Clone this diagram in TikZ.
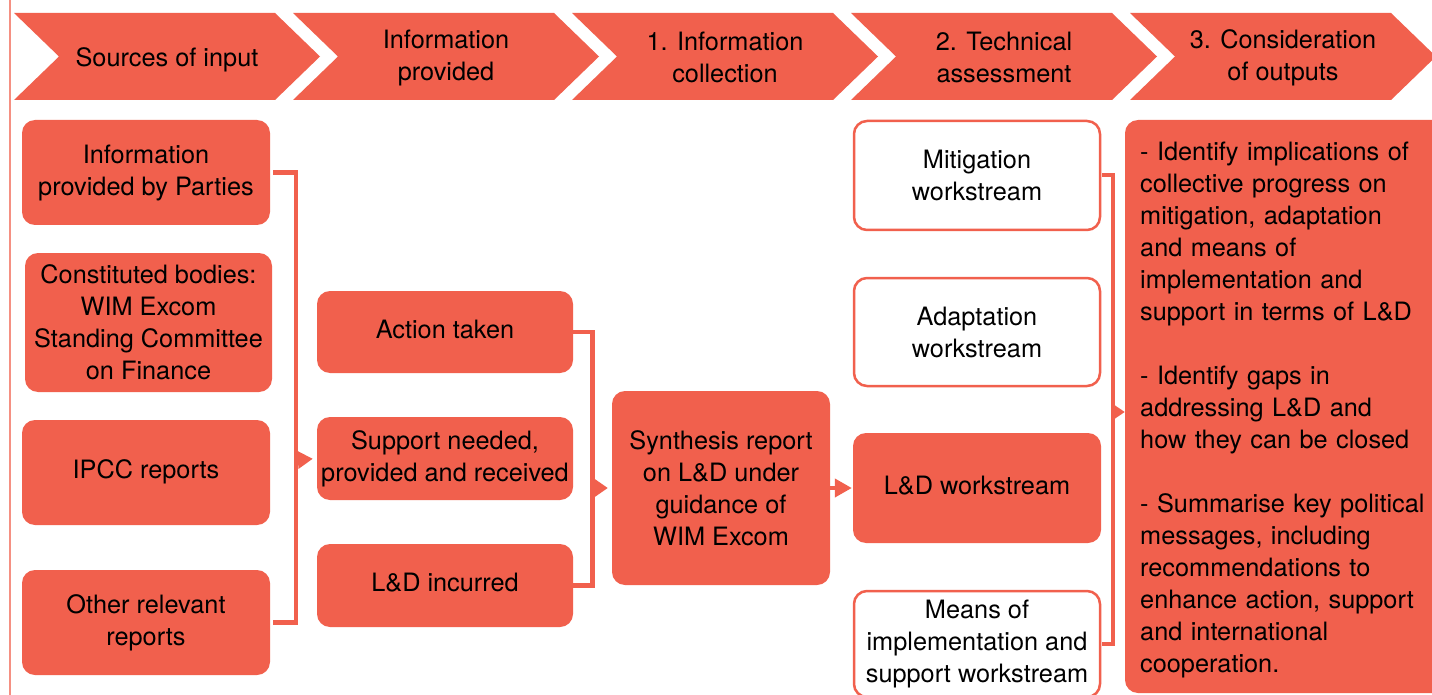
\documentclass[tikz,border=0pt]{standalone}
\usepackage{fontspec}
\setmainfont{TeX Gyre Heros}
\usetikzlibrary{arrows.meta,calc}
\definecolor{salmon}{RGB}{241,96,77}
\begin{document}
\begin{tikzpicture}[x=1pt,y=-1pt,
  txt/.style={font=\fontsize{25.3}{32}\selectfont, align=center, text=black},
  fbox/.style={txt, fill=salmon, rounded corners=13pt, inner sep=0pt},
  wbox/.style={txt, fill=white, draw=salmon, line width=2.5pt, rounded corners=13pt, inner sep=0pt},
  oneline/.style={text height=17.8pt, text depth=5.6pt},
  brk/.style={draw=salmon, line width=4.5pt},
  chev/.style={fill=salmon}
]
\path[use as bounding box] (0,0) rectangle (1432,695);
\clip (0,0) rectangle (1432,695);
\fill[white] (0,0) rectangle (1432,695);

% left frame line
\draw[salmon!70, line width=2.8pt] (10,0) -- (10,695);

% header chevrons
\foreach \i in {0,...,4}{
  \pgfmathsetmacro\L{14+279*\i}
  \fill[chev] (\L,13) -- (\L+261,13) -- (\L+306,56.5) -- (\L+261,100) -- (\L,100) -- (\L+45,56.5) -- cycle;
}
\node[txt, text height=19.2pt, text depth=0pt] (h1) at (167,56.5) {Sources of input};
\node[txt] (h2) at (446,58) {Information\\provided};
\node[txt] (h3) at (725,57.5) {1. Information\\collection};
\node[txt] (h4) at (1004,57.5) {2. Technical\\assessment};
\node[txt] (h5) at (1283,57.5) {3. Consideration\\of outputs};

% sources of input
\node[fbox, minimum width=248, minimum height=105] (src1) at (146,172.5) {Information\\provided by Parties};
\node[fbox, minimum width=247, minimum height=139] (src2) at (148.5,322.5) {Constituted bodies:\\WIM Excom\\Standing Committee\\on Finance};
\node[fbox, oneline, minimum width=248, minimum height=105] (src3) at (146,472.5) {IPCC reports};
\node[fbox, minimum width=248, minimum height=105] (src4) at (146,622.5) {Other relevant\\reports};

% information provided
\node[fbox, oneline, minimum width=256, minimum height=82] (act) at (445,332) {Action taken};
\node[fbox, minimum width=256, minimum height=83] (sup) at (445,458.5) {Support needed,\\provided and received};
\node[fbox, oneline, minimum width=256, minimum height=83] (inc) at (445,585.5) {L\&D incurred};

% synthesis
\node[fbox, minimum width=218, minimum height=194] (syn) at (721,488) {Synthesis report\\on L\&D under\\guidance of\\WIM Excom};

% workstreams
\node[wbox, minimum width=246, minimum height=109] (mit) at (977,175.5) {Mitigation\\workstream};
\node[wbox, minimum width=246, minimum height=108] (ada) at (977,332) {Adaptation\\workstream};
\node[fbox, oneline, minimum width=248, minimum height=110] (ldw) at (977,488) {L\&D workstream};
\node[wbox, minimum width=246, minimum height=106] (moi) at (977,644) {Means of\\implementation and\\support workstream};

% outputs
\node[fill=salmon, rounded corners=13pt, inner sep=0pt, minimum width=335, minimum height=573] (out) at (1292.5,406.5) {};
\node[txt, align=left, anchor=north west, inner sep=0pt, text width=300] (outtxt) at (1140,141.5) {- Identify implications of\\
collective progress on\\
mitigation, adaptation\\
and means of\\
implementation and\\
support in terms of L\&D\\[32pt]
- Identify gaps in\\
addressing L\&D and\\
how they can be closed\\[32pt]
- Summarise key political\\
messages, including\\
recommendations to\\
enhance action, support\\
and international\\
cooperation.};

% bracket 1
\coordinate (j1) at (296,460);
\draw[brk] ([xshift=3]src1.east) -| (j1) |- ([xshift=3]src4.east);
\draw[brk, -{Triangle[length=15pt,width=17pt]}, shorten >=4pt] (j1) -- (sup.west);

% bracket 2
\coordinate (j2) at (592.5,488);
\draw[brk] (act.east) -| (j2) |- (inc.east);
\draw[brk, -{Triangle[length=13pt,width=17pt]}, shorten >=4pt] (j2) -- (syn.west);

% synthesis to L&D workstream
\draw[brk, line width=4pt, -{Triangle[length=17pt,width=18pt]}, shorten >=1pt] (syn.east) -- (ldw.west);

% bracket 3
\coordinate (j3) at (1112.5,412);
\draw[brk, line width=4pt] ([xshift=1]mit.east) -| (j3) |- ([xshift=1]moi.east);
\draw[brk, line width=4pt, -{Triangle[length=11pt,width=14pt]}] (j3) -- (j3 -| out.west);
\end{tikzpicture}
\end{document}
